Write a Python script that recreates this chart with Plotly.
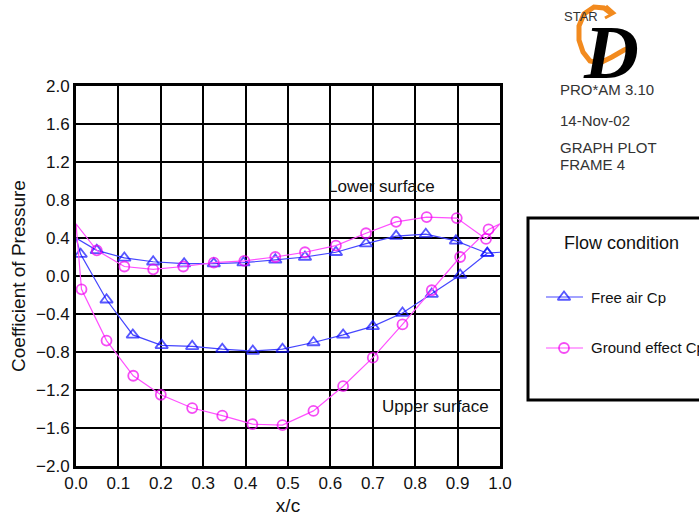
import plotly.graph_objects as go

# Surface pressure distribution around the section, listed as one closed loop:
# trailing edge -> upper surface -> leading edge -> lower surface -> trailing edge
free_air_x = [1.0, 0.970, 0.906, 0.839, 0.770, 0.700, 0.630, 0.560, 0.487, 0.417,
              0.345, 0.274, 0.202, 0.134, 0.072, 0.011, 0.0,
              0.049, 0.114, 0.182, 0.255, 0.325, 0.395, 0.470, 0.540, 0.613,
              0.684, 0.755, 0.825, 0.896, 0.970, 1.0]
free_air_cp = [0.25, 0.24, 0.01, -0.19, -0.39, -0.53, -0.62, -0.70, -0.77, -0.79,
               -0.77, -0.74, -0.73, -0.62, -0.25, 0.23, 0.40,
               0.27, 0.19, 0.15, 0.13, 0.13, 0.14, 0.17, 0.20, 0.25,
               0.34, 0.42, 0.44, 0.37, 0.24, 0.25]

ground_x = [1.0, 0.973, 0.906, 0.839, 0.770, 0.700, 0.630, 0.560, 0.487, 0.416,
            0.345, 0.274, 0.200, 0.135, 0.072, 0.013, 0.0,
            0.049, 0.114, 0.182, 0.253, 0.325, 0.397, 0.470, 0.540, 0.613,
            0.684, 0.755, 0.827, 0.898, 0.967, 1.0]
ground_cp = [0.55, 0.49, 0.20, -0.15, -0.51, -0.86, -1.16, -1.42, -1.57, -1.56,
             -1.47, -1.39, -1.25, -1.05, -0.68, -0.14, 0.55,
             0.27, 0.10, 0.07, 0.10, 0.14, 0.16, 0.20, 0.25, 0.32,
             0.45, 0.57, 0.62, 0.61, 0.39, 0.55]

x_ticks = [round(0.1 * i, 1) for i in range(11)]
y_ticks = [round(-2.0 + 0.4 * i, 1) for i in range(11)]

series_names = ["Free air Cp", "Ground effect Cp"]
info_lines = ["PRO*AM 3.10", "14-Nov-02", "GRAPH PLOT", "FRAME 4"]

BLUE_LINE, BLUE_MARK = "#4646ff", "#1010ff"
MAG_LINE, MAG_MARK = "#ff50ff", "#f000f0"
FONT = "Liberation Sans"

W, H = 699, 518
ML, MT, MB = 76, 86, 52
PLOT_W = 424
AREA_W = W - ML
AREA_H = H - MT - MB


def px(x):
    return (x - ML) / AREA_W


def py(y):
    return (H - MB - y) / AREA_H


def edge_sizes(n, size):
    # no marker at the leading and trailing edge points
    s = [size] * n
    s[0] = 0
    s[-1] = 0
    s[n // 2] = 0
    return s


fig = go.Figure()

fig.add_trace(go.Scatter(
    x=free_air_x, y=free_air_cp, mode="lines+markers", name=series_names[0],
    line=dict(color=BLUE_LINE, width=1.2),
    marker=dict(symbol="triangle-up-open", size=edge_sizes(len(free_air_x), 11),
                color=BLUE_MARK, line=dict(width=1.8, color=BLUE_MARK)),
    showlegend=False, cliponaxis=False,
))
fig.add_trace(go.Scatter(
    x=ground_x, y=ground_cp, mode="lines+markers", name=series_names[1],
    line=dict(color=MAG_LINE, width=1.2),
    marker=dict(symbol="circle-open", size=edge_sizes(len(ground_x), 10),
                color=MAG_MARK, line=dict(width=1.8, color=MAG_MARK)),
    showlegend=False, cliponaxis=False,
))

# legend samples drawn on a hidden pixel-scaled axis pair
fig.add_trace(go.Scatter(
    x=[546, 564, 583], y=[297, 297, 297], mode="lines+markers", xaxis="x2", yaxis="y2",
    line=dict(color=BLUE_LINE, width=1.2),
    marker=dict(symbol="triangle-up-open", size=[0, 11, 0], color=BLUE_MARK,
                line=dict(width=1.8, color=BLUE_MARK)),
    showlegend=False, hoverinfo="skip",
))
fig.add_trace(go.Scatter(
    x=[546, 564, 583], y=[348, 348, 348], mode="lines+markers", xaxis="x2", yaxis="y2",
    line=dict(color=MAG_LINE, width=1.2),
    marker=dict(symbol="circle-open", size=[0, 10, 0], color=MAG_MARK,
                line=dict(width=1.8, color=MAG_MARK)),
    showlegend=False, hoverinfo="skip",
))

axis_common = dict(
    showgrid=True, gridcolor="black", gridwidth=1.5,
    showline=True, linecolor="black", linewidth=3, mirror=True,
    zeroline=False, ticks="", tickfont=dict(family=FONT, size=17, color="#111"),
    tickformat=".1f",
)


def note(x, y, text, size, color="#111", anchor="left", **font_extra):
    return dict(x=px(x), y=py(y), xref="paper", yref="paper", xanchor=anchor,
                yanchor="middle", text=text, showarrow=False, align="left",
                font=dict(family=font_extra.pop("family", FONT), size=size,
                          color=color, **font_extra))


logo_letter = note(611, 52, "D", 76, "black", anchor="center",
                   family="Liberation Serif", style="italic", weight="bold")
logo_letter.update(height=56, valign="middle", borderpad=0)

annotations = [
    dict(x=0.72, y=0.94, xref="x", yref="y", text="Lower surface", showarrow=False,
         font=dict(family=FONT, size=17, color="#111")),
    dict(x=0.849, y=-1.37, xref="x", yref="y", text="Upper surface", showarrow=False,
         font=dict(family=FONT, size=17, color="#111")),
    note(562, 243, "Flow condition", 18),
    note(589, 297, series_names[0], 15),
    note(589, 348, series_names[1], 15),
    note(558, 89, info_lines[0], 15, "#333"),
    note(558, 121, info_lines[1], 15, "#333"),
    note(558, 147, info_lines[2], 15, "#333"),
    note(558, 164, info_lines[3], 15, "#333"),
    logo_letter,
    note(581, 16, "STAR", 13, "#333", anchor="center"),
]


def path_px(points):
    return "M " + " L ".join(f"{px(a):.5f},{py(b):.5f}" for a, b in points)


arc_pts = [(612, 14), (604, 8), (594, 7), (584, 14), (579, 26), (579, 40),
           (583, 52), (590, 61), (600, 63), (612, 57), (624, 50), (634, 46)]

shapes = [
    dict(type="rect", xref="paper", yref="paper",
         x0=px(528), x1=px(760), y0=py(400), y1=py(218),
         line=dict(color="black", width=3), fillcolor="rgba(0,0,0,0)"),
    dict(type="path", xref="paper", yref="paper", path=path_px(arc_pts),
         line=dict(color="#f28a1e", width=5), layer="below"),
    dict(type="path", xref="paper", yref="paper",
         path=path_px([(606, 6), (614, 13), (605, 18)]),
         line=dict(color="#f28a1e", width=3), layer="below"),
]

fig.update_layout(
    width=W, height=H,
    margin=dict(l=ML, r=0, t=MT, b=MB, pad=0, autoexpand=False),
    paper_bgcolor="white", plot_bgcolor="white",
    xaxis=dict(domain=[0, PLOT_W / AREA_W], range=[0, 1], tickvals=x_ticks,
               title=dict(text="x/c", font=dict(family=FONT, size=19, color="#111"),
                          standoff=7),
               **axis_common),
    yaxis=dict(range=[-2, 2], tickvals=y_ticks,
               title=dict(text="Coefficient of Pressure",
                          font=dict(family=FONT, size=19, color="#111"), standoff=6),
               **axis_common),
    xaxis2=dict(domain=[px(527), 1], range=[527, W], anchor="y2", visible=False),
    yaxis2=dict(domain=[0, 1], range=[H - MB, MT], anchor="x2", visible=False),
    annotations=annotations,
    shapes=shapes,
    showlegend=False,
)

fig.write_html("out.html")
